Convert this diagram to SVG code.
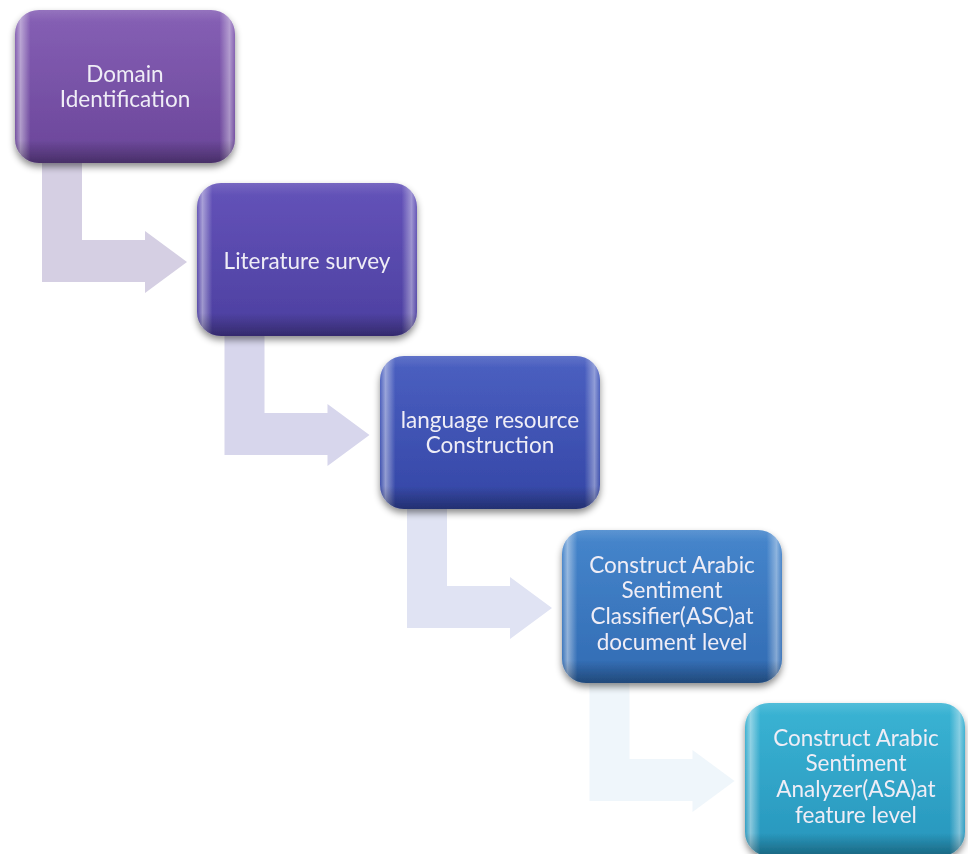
<svg xmlns="http://www.w3.org/2000/svg" width="968" height="854" viewBox="0 0 968 854">
  <defs>
    <style>
      .label { font-family: Lato, "Liberation Sans", sans-serif; font-size: 22.5px; fill: #efedf6; text-anchor: middle; }
      .gloss { fill: url(#sideGloss); }
      .shade { fill: url(#bottomShade); }
    </style>
    <filter id="drop" x="-10%" y="-10%" width="125%" height="130%">
      <feDropShadow dx="0" dy="4" stdDeviation="3.5" flood-color="#000" flood-opacity="0.45"/>
    </filter>
    <!-- bevel highlights along left/right edges -->
    <linearGradient id="sideGloss" x1="0" y1="0" x2="1" y2="0">
      <stop offset="0" stop-color="#fff" stop-opacity="0.05"/>
      <stop offset="0.025" stop-color="#fff" stop-opacity="0.45"/>
      <stop offset="0.07" stop-color="#fff" stop-opacity="0"/>
      <stop offset="0.93" stop-color="#fff" stop-opacity="0"/>
      <stop offset="0.975" stop-color="#fff" stop-opacity="0.4"/>
      <stop offset="1" stop-color="#fff" stop-opacity="0.05"/>
    </linearGradient>
    <linearGradient id="bottomShade" x1="0" y1="0" x2="0" y2="1">
      <stop offset="0" stop-color="#fff" stop-opacity="0.12"/>
      <stop offset="0.08" stop-color="#fff" stop-opacity="0"/>
      <stop offset="0.85" stop-color="#000" stop-opacity="0"/>
      <stop offset="1" stop-color="#000" stop-opacity="0.32"/>
    </linearGradient>
    <linearGradient id="g1" x1="0" y1="0" x2="0" y2="1">
      <stop offset="0" stop-color="#8660b5"/>
      <stop offset="1" stop-color="#6a4599"/>
    </linearGradient>
    <linearGradient id="g2" x1="0" y1="0" x2="0" y2="1">
      <stop offset="0" stop-color="#6453b9"/>
      <stop offset="1" stop-color="#4c3fa0"/>
    </linearGradient>
    <linearGradient id="g3" x1="0" y1="0" x2="0" y2="1">
      <stop offset="0" stop-color="#4b60c1"/>
      <stop offset="1" stop-color="#3446a6"/>
    </linearGradient>
    <linearGradient id="g4" x1="0" y1="0" x2="0" y2="1">
      <stop offset="0" stop-color="#4686cc"/>
      <stop offset="1" stop-color="#316bb3"/>
    </linearGradient>
    <linearGradient id="g5" x1="0" y1="0" x2="0" y2="1">
      <stop offset="0" stop-color="#3ab4d4"/>
      <stop offset="1" stop-color="#2795bc"/>
    </linearGradient>
  </defs>

  <rect width="968" height="854" fill="#ffffff"/>

  <!-- bent connectors between steps -->
  <g id="connectors">
    <path d="M42,150 H82 V240 H145 V231 L187,262 L145,293 V282 H42 Z" fill="#d5cfe3"/>
    <path d="M224.5,323 H264.5 V413 H327.5 V404 L369.5,435 L327.5,466 V455 H224.5 Z" fill="#d7d6ec"/>
    <path d="M407,496 H447 V586 H510 V577 L552,608 L510,639 V628 H407 Z" fill="#e0e3f3"/>
    <path d="M589.5,669 H629.5 V759 H692.5 V750 L734.5,781 L692.5,812 V801 H589.5 Z" fill="#eff6fb"/>
  </g>

  <g id="step1" filter="url(#drop)">
    <rect x="15" y="10" width="220" height="153" rx="24" fill="url(#g1)"/>
    <rect x="15" y="10" width="220" height="153" rx="24" class="gloss"/>
    <rect x="15" y="10" width="220" height="153" rx="24" class="shade"/>
    <text class="label" x="125" y="82">Domain</text>
    <text class="label" x="125" y="107">Identification</text>
  </g>

  <g id="step2" filter="url(#drop)">
    <rect x="197" y="183" width="220" height="153" rx="24" fill="url(#g2)"/>
    <rect x="197" y="183" width="220" height="153" rx="24" class="gloss"/>
    <rect x="197" y="183" width="220" height="153" rx="24" class="shade"/>
    <text class="label" x="307" y="269">Literature survey</text>
  </g>

  <g id="step3" filter="url(#drop)">
    <rect x="380" y="356" width="220" height="153" rx="24" fill="url(#g3)"/>
    <rect x="380" y="356" width="220" height="153" rx="24" class="gloss"/>
    <rect x="380" y="356" width="220" height="153" rx="24" class="shade"/>
    <text class="label" x="490" y="428">language resource</text>
    <text class="label" x="490" y="453">Construction</text>
  </g>

  <g id="step4" filter="url(#drop)">
    <rect x="562" y="530" width="220" height="153" rx="24" fill="url(#g4)"/>
    <rect x="562" y="530" width="220" height="153" rx="24" class="gloss"/>
    <rect x="562" y="530" width="220" height="153" rx="24" class="shade"/>
    <text class="label" x="672" y="573">Construct Arabic</text>
    <text class="label" x="672" y="598">Sentiment</text>
    <text class="label" x="672" y="624">Classifier(ASC)at</text>
    <text class="label" x="672" y="650">document level</text>
  </g>

  <g id="step5" filter="url(#drop)">
    <rect x="745" y="703" width="220" height="153" rx="24" fill="url(#g5)"/>
    <rect x="745" y="703" width="220" height="153" rx="24" class="gloss"/>
    <rect x="745" y="703" width="220" height="153" rx="24" class="shade"/>
    <text class="label" x="856" y="746">Construct Arabic</text>
    <text class="label" x="856" y="771">Sentiment</text>
    <text class="label" x="856" y="797">Analyzer(ASA)at</text>
    <text class="label" x="856" y="823">feature level</text>
  </g>
</svg>
